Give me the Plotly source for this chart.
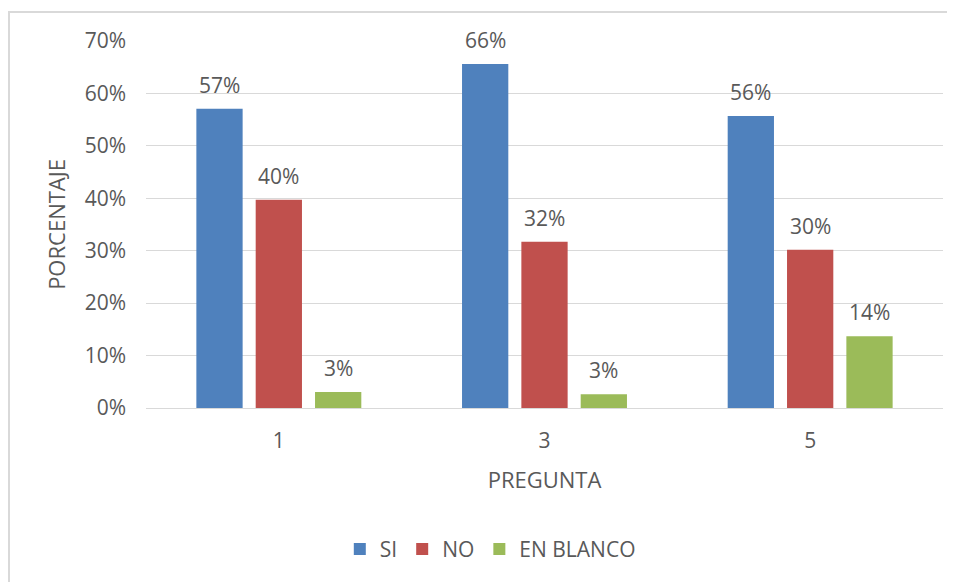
import plotly.graph_objects as go

preguntas = ["1", "3", "5"]
si = [57.1, 65.6, 55.7]
no = [39.7, 31.7, 30.2]
en_blanco = [3.05, 2.6, 13.7]

series = [("SI", si, "#4F81BD"), ("NO", no, "#C0504D"), ("EN BLANCO", en_blanco, "#9BBB59")]

FONT = "Open Sans"
GREY = "#595959"

# page body has an 8px margin; size the figure so it fits the window
W, H = 947, 574
L, R, T, B = 138, 12, 33, 174
BARGAP, GROUPGAP = 0.33, 0.22
plot_w = W - L - R
slot = plot_w / len(preguntas) * (1 - BARGAP) / len(series)

fig = go.Figure()
annotations = []
for i, (name, vals, color) in enumerate(series):
    fig.add_trace(go.Bar(
        x=preguntas, y=vals, name=name, marker=dict(color=color, line=dict(width=0)),
    ))
    for j, v in enumerate(vals):
        annotations.append(dict(
            x=j, y=v, xref="x", yref="y", text=f"{v:.0f}%", showarrow=False,
            xshift=(i - (len(series) - 1) / 2) * slot, yshift=24, yanchor="middle",
            font=dict(family=FONT, size=21, color=GREY),
        ))

fig.update_layout(
    width=W, height=H,
    margin=dict(l=L, r=R, t=T, b=B),
    paper_bgcolor="white", plot_bgcolor="white",
    barmode="group", bargap=BARGAP, bargroupgap=GROUPGAP,
    font=dict(family=FONT, color=GREY, size=21),
    xaxis=dict(type="category", range=[-0.5, len(preguntas) - 0.5], autorange=False,
               showgrid=False, showline=False, ticks="",
               tickfont=dict(size=21, color=GREY), ticklabelstandoff=18,
               title=dict(text="PREGUNTA", font=dict(size=22, color=GREY), standoff=19)),
    yaxis=dict(range=[0, 70], dtick=10, ticksuffix="%", showgrid=True, gridcolor="#D9D9D9",
               gridwidth=1.3, zeroline=True, zerolinecolor="#D9D9D9", zerolinewidth=1.3,
               showline=False, ticks="", tickfont=dict(size=21, color=GREY),
               ticklabelstandoff=19,
               title=dict(text="PORCENTAJE", font=dict(size=22, color=GREY), standoff=12)),
    legend=dict(orientation="h", x=0.432, xanchor="center", y=-0.385, yanchor="middle",
                font=dict(size=21, color=GREY), traceorder="normal", itemwidth=30),
    showlegend=True,
    annotations=annotations,
    shapes=[dict(type="rect", xref="paper", yref="paper", x0=-0.1719, x1=1.05, y0=-0.5, y1=1.079,
                 line=dict(color="#D9D9D9", width=2), layer="below")],
)

fig.write_html("out.html")
